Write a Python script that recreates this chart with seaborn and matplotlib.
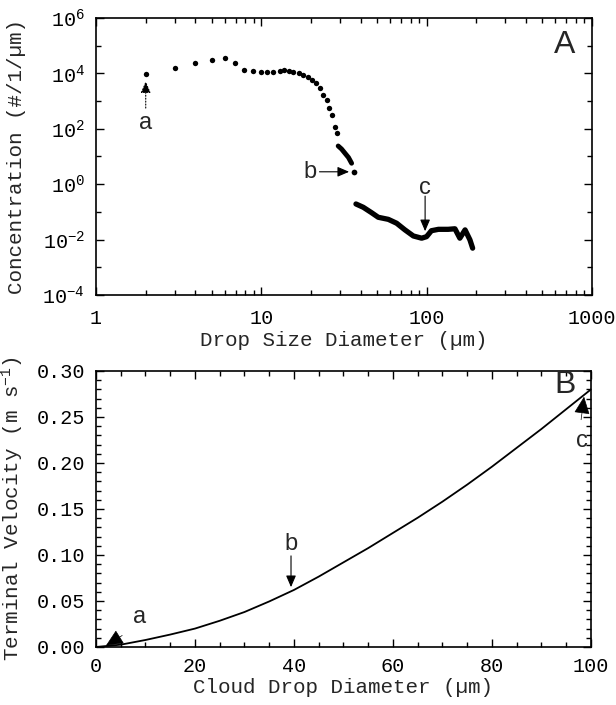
import numpy as np
import pandas as pd
import matplotlib
matplotlib.use("Agg")
import matplotlib.pyplot as plt
import matplotlib.ticker as mticker
import seaborn as sns

# ==========================================
# Data
# ==========================================

# Panel A - dotted part (small drop probe)
dot_diam = [2.0, 3.0, 4.0, 5.0, 6.0, 6.9, 7.9, 8.9, 9.9, 10.9, 11.8, 12.9,
            13.8, 14.8, 15.6, 16.8, 18.0, 19.1, 20.3, 21.4, 22.6, 23.7,
            24.9, 25.7, 26.8, 27.8, 28.7]
dot_conc = [9500, 16100, 23700, 29600, 36000, 24400, 13300, 12200, 11200,
            11200, 11200, 12600, 13300, 12600, 11600, 10050, 8500, 7200,
            5800, 4380, 2890, 1660, 1100, 550, 325, 116, 69]

# Panel A - dense segment near the end of the small drop range
seg_diam = [29.2, 30.6, 32.1, 33.7, 35.2]
seg_conc = [23.9, 18.6, 13.1, 9.2, 5.7]

# point b
b_diam = [36.4]
b_conc = [2.83]

# Panel A - large drop probe (solid thick line)
big_diam = [37.4, 41.4, 46.5, 51.0, 58.7, 65.9, 74.0, 83.2, 93.4, 100,
            107, 118, 135, 148.5, 159, 171, 183, 190]
big_logc = [-0.715, -0.834, -1.03, -1.195, -1.27, -1.41, -1.65, -1.87,
            -1.95, -1.895, -1.68, -1.63, -1.63, -1.61, -1.95, -1.65,
            -2.01, -2.31]
big_conc = [10 ** v for v in big_logc]

# Panel B - terminal velocity
vel_diam = [0, 5, 10, 15, 20, 25, 30, 35, 40, 45, 50, 55, 60, 65, 70, 75,
            80, 85, 90, 95, 100]
vel_vals = [0.0, 0.0025, 0.0076, 0.0135, 0.020, 0.0285, 0.038, 0.0495,
            0.062, 0.0765, 0.092, 0.1075, 0.124, 0.1405, 0.158, 0.1765,
            0.196, 0.2165, 0.237, 0.2585, 0.280]

# ==========================================
# Style
# ==========================================

sns.set_style("ticks")
plt.rcParams['font.family'] = ['Liberation Mono', 'DejaVu Sans']
plt.rcParams['mathtext.fontset'] = 'custom'
plt.rcParams['mathtext.rm'] = 'Liberation Mono'
plt.rcParams['mathtext.default'] = 'rm'
plt.rcParams['axes.linewidth'] = 1.2
plt.rcParams['axes.edgecolor'] = 'black'
plt.rcParams['xtick.color'] = 'black'
plt.rcParams['ytick.color'] = 'black'

TICK = 14.5
LAB = 15
SANS = 'Liberation Sans'

fig = plt.figure(figsize=(6.16, 7.05), dpi=100)
ax1 = fig.add_axes([0.1558, 0.5816, 0.805, 0.3929])
ax2 = fig.add_axes([0.1558, 0.0823, 0.8036, 0.3915])

# ==========================================
# Panel A
# ==========================================

df_dots = pd.DataFrame({'d': dot_diam, 'c': dot_conc})
df_seg = pd.DataFrame({'d': seg_diam, 'c': seg_conc})
df_b = pd.DataFrame({'d': b_diam, 'c': b_conc})
df_big = pd.DataFrame({'d': big_diam, 'c': big_conc})

sns.scatterplot(data=df_dots, x='d', y='c', ax=ax1, color='black',
                s=15, linewidth=0)
sns.lineplot(data=df_seg, x='d', y='c', ax=ax1, color='black', lw=3.5,
             estimator=None, sort=False, solid_capstyle='round')
sns.scatterplot(data=df_b, x='d', y='c', ax=ax1, color='black',
                s=17, linewidth=0)
sns.lineplot(data=df_big, x='d', y='c', ax=ax1, color='black', lw=3.8,
             estimator=None, sort=False, solid_capstyle='round',
             solid_joinstyle='round')

ax1.set_xscale('log')
ax1.set_yscale('log')
ax1.set_xlim(1, 1000)
ax1.set_ylim(1e-4, 1e6)

ax1.xaxis.set_major_locator(mticker.FixedLocator([1, 10, 100, 1000]))
ax1.xaxis.set_minor_locator(mticker.LogLocator(base=10, subs=np.arange(2, 10), numticks=20))
ax1.xaxis.set_major_formatter(mticker.FixedFormatter(['1', '10', '100', '1000']))
ax1.xaxis.set_minor_formatter(mticker.NullFormatter())

ax1.yaxis.set_major_locator(mticker.FixedLocator([10.0 ** e for e in range(-4, 7, 2)]))
ax1.yaxis.set_minor_locator(mticker.FixedLocator([10.0 ** e for e in range(-3, 6, 2)]))
ax1.yaxis.set_major_formatter(mticker.FuncFormatter(
    lambda v, p: r'10$^{%d}$' % int(round(np.log10(v)))))
ax1.yaxis.set_minor_formatter(mticker.NullFormatter())

ax1.set_xlabel('Drop Size Diameter (µm)', fontsize=LAB, labelpad=2)
ax1.set_ylabel('Concentration (#/1/µm)', fontsize=LAB)
ax1.yaxis.set_label_coords(-0.142, 0.5)

# annotations panel A
head = '-|>,head_length=0.7,head_width=0.3'
ax1.text(0.946, 0.9025, 'A', transform=ax1.transAxes, fontsize=23,
         family=SANS, ha='center', va='center')
ax1.text(2.0, 160, 'a', fontsize=17, family=SANS, ha='center', va='center')
ax1.annotate('', xy=(2.0, 5200), xytext=(2.0, 560),
             arrowprops=dict(arrowstyle=head, color='black', lw=0.8,
                             linestyle=':', shrinkA=0, shrinkB=0))
ax1.text(19.7, 2.8, 'b', fontsize=17, family=SANS, ha='center', va='center')
ax1.annotate('', xy=(34.0, 2.8), xytext=(22.5, 2.8),
             arrowprops=dict(arrowstyle=head, color='black', lw=0.8,
                             shrinkA=0, shrinkB=0))
ax1.text(98, 0.75, 'c', fontsize=17, family=SANS, ha='center', va='center')
ax1.annotate('', xy=(98, 0.02), xytext=(98, 0.37),
             arrowprops=dict(arrowstyle=head, color='black', lw=0.8,
                             shrinkA=0, shrinkB=0))

# ==========================================
# Panel B
# ==========================================

df_vel = pd.DataFrame({'d': vel_diam, 'v': vel_vals})
sns.lineplot(data=df_vel, x='d', y='v', ax=ax2, color='black', lw=1.3,
             estimator=None)

ax2.set_xlim(0, 100)
ax2.set_ylim(0, 0.30)
ax2.xaxis.set_major_locator(mticker.MultipleLocator(20))
ax2.xaxis.set_minor_locator(mticker.MultipleLocator(5))
ax2.yaxis.set_major_locator(mticker.MultipleLocator(0.05))
ax2.yaxis.set_minor_locator(mticker.MultipleLocator(0.01))
ax2.yaxis.set_major_formatter(mticker.FormatStrFormatter('%.2f'))

ax2.set_xlabel('Cloud Drop Diameter (µm)', fontsize=LAB, labelpad=2)
ax2.set_ylabel(r'Terminal Velocity (m s$^{-1}$)', fontsize=LAB)
ax2.yaxis.set_label_coords(-0.142, 0.5)

big_head = '-|>,head_length=1.1,head_width=0.5'
ax2.text(0.9475, 0.949, 'B', transform=ax2.transAxes, fontsize=23,
         family=SANS, ha='center', va='center')
ax2.text(8.9, 0.033, 'a', fontsize=17, family=SANS, ha='center', va='center')
ax2.annotate('', xy=(2.0, 0.0014), xytext=(5.3, 0.0125),
             arrowprops=dict(arrowstyle=big_head, color='black', lw=0.5,
                             shrinkA=0, shrinkB=0))
ax2.text(39.4, 0.112, 'b', fontsize=17, family=SANS, ha='center', va='center')
ax2.annotate('', xy=(39.4, 0.065), xytext=(39.4, 0.099),
             arrowprops=dict(arrowstyle=head, color='black', lw=0.8,
                             shrinkA=0, shrinkB=0))
ax2.text(98.2, 0.224, 'c', fontsize=17, family=SANS, ha='center', va='center')
ax2.annotate('', xy=(98.6, 0.272), xytext=(98.0, 0.247),
             arrowprops=dict(arrowstyle=big_head, color='black', lw=0.5,
                             shrinkA=0, shrinkB=0))

# ==========================================
# Tick styling for both panels
# ==========================================

for ax in (ax1, ax2):
    ax.tick_params(which='both', direction='in', top=True, right=True,
                   labelsize=TICK, width=1.0)
    ax.tick_params(which='major', length=6)
    ax.tick_params(which='minor', length=3.5)
    for sp in ax.spines.values():
        sp.set_visible(True)
ax1.tick_params(axis='x', which='major', pad=10)
ax1.tick_params(axis='y', which='major', pad=8)
ax2.tick_params(axis='x', which='major', pad=7)
ax2.tick_params(axis='y', which='major', pad=8)

fig.savefig("out.png", dpi=100)
